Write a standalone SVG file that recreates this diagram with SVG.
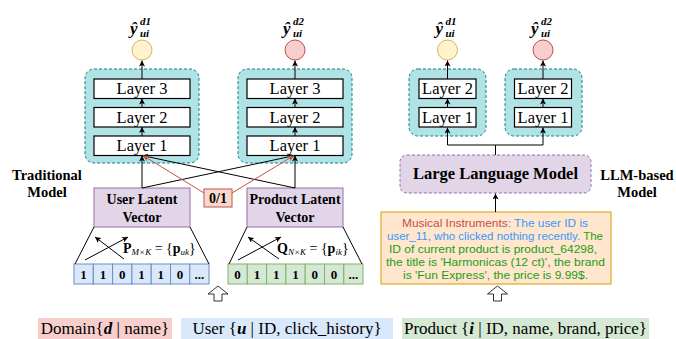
<svg xmlns="http://www.w3.org/2000/svg" width="676" height="339" viewBox="0 0 676 339">
<defs>
<marker id="ah" viewBox="0 0 10 10" refX="10" refY="5" markerWidth="6" markerHeight="6" markerUnits="userSpaceOnUse" orient="auto"><path d="M0,0 L10,5 L0,10 L2.5,5 Z" fill="#000"/></marker>
<marker id="ahr" viewBox="0 0 10 10" refX="10" refY="5" markerWidth="6" markerHeight="6" markerUnits="userSpaceOnUse" orient="auto"><path d="M0,0 L10,5 L0,10 L2.5,5 Z" fill="#c9504a"/></marker>
<style>
.teal{fill:#b0e3e6;stroke:#0e8088;stroke-width:1;stroke-dasharray:3,2}
.layer{fill:#fff;stroke:#000;stroke-width:1.2}
.lt{font-family:"Liberation Serif",serif;font-size:16.5px;text-anchor:middle;fill:#000}
.bt{font-family:"Liberation Serif",serif;font-weight:bold;text-anchor:middle;fill:#000}
.purple{fill:#e1d5e7;stroke:#9673a6;stroke-width:1}
.c{stroke:#000;stroke-width:1;fill:none}
.cr{stroke:#c9504a;stroke-width:1;fill:none}
.ucell{fill:#dae8fc;stroke:#6c8ebf;stroke-width:1}
.pcell{fill:#d5e8d4;stroke:#82b366;stroke-width:1}
.ct{font-family:"Liberation Serif",serif;font-weight:bold;font-size:13px;text-anchor:middle}
.m{font-family:"Liberation Serif",serif;font-size:14px}
.hat{font-family:"Liberation Serif",serif;font-weight:bold;font-style:italic}
.bl{font-family:"Liberation Serif",serif;font-size:17px;text-anchor:middle}
.cm{font-family:"Liberation Sans",Arial,sans-serif;font-size:10.5px;text-anchor:middle}
.hollow{fill:#fff;stroke:#000;stroke-width:0.8}
</style>
</defs>

<g id="trad-stack1">
<rect class="teal" x="85" y="69" width="114" height="94" rx="9"/>
<rect class="layer" x="94" y="79" width="96" height="19.5"/>
<text class="lt" x="142" y="94">Layer 3</text>
<rect class="layer" x="94" y="107.5" width="96" height="19.5"/>
<text class="lt" x="142" y="122.5">Layer 2</text>
<rect class="layer" x="94" y="136" width="96" height="19.5"/>
<text class="lt" x="142" y="151">Layer 1</text>
</g>
<g id="trad-stack2">
<rect class="teal" x="238" y="69" width="114" height="94" rx="9"/>
<rect class="layer" x="247" y="79" width="96" height="19.5"/>
<text class="lt" x="295" y="94">Layer 3</text>
<rect class="layer" x="247" y="107.5" width="96" height="19.5"/>
<text class="lt" x="295" y="122.5">Layer 2</text>
<rect class="layer" x="247" y="136" width="96" height="19.5"/>
<text class="lt" x="295" y="151">Layer 1</text>
</g>

<g id="out-t1">
<circle cx="142" cy="50" r="10" fill="#fff2cc" stroke="#d6b656"/>
<text class="hat" x="130" y="34" font-size="17">ŷ</text>
<text class="hat" x="140" y="25" font-size="11">d1</text>
<text class="hat" x="140" y="37" font-size="11">ui</text>
</g>
<g id="out-t2">
<circle cx="295" cy="50" r="10" fill="#f8cecc" stroke="#b85450"/>
<text class="hat" x="283" y="34" font-size="17">ŷ</text>
<text class="hat" x="293" y="25" font-size="11">d2</text>
<text class="hat" x="293" y="37" font-size="11">ui</text>
</g>
<g id="out-l1">
<circle cx="447.5" cy="50" r="10" fill="#fff2cc" stroke="#d6b656"/>
<text class="hat" x="435.5" y="34" font-size="17">ŷ</text>
<text class="hat" x="445.5" y="25" font-size="11">d1</text>
<text class="hat" x="445.5" y="37" font-size="11">ui</text>
</g>
<g id="out-l2">
<circle cx="543" cy="50" r="10" fill="#f8cecc" stroke="#b85450"/>
<text class="hat" x="531" y="34" font-size="17">ŷ</text>
<text class="hat" x="541" y="25" font-size="11">d2</text>
<text class="hat" x="541" y="37" font-size="11">ui</text>
</g>

<g id="llm-stack1">
<rect class="teal" x="409" y="69" width="77" height="67" rx="9"/>
<rect class="layer" x="419" y="79" width="57" height="19.5"/>
<text class="lt" x="447.5" y="94">Layer 2</text>
<rect class="layer" x="419" y="107.5" width="57" height="19.5"/>
<text class="lt" x="447.5" y="122.5">Layer 1</text>
</g>
<g id="llm-stack2">
<rect class="teal" x="505" y="69" width="77" height="67" rx="9"/>
<rect class="layer" x="514.5" y="79" width="57" height="19.5"/>
<text class="lt" x="543" y="94">Layer 2</text>
<rect class="layer" x="514.5" y="107.5" width="57" height="19.5"/>
<text class="lt" x="543" y="122.5">Layer 1</text>
</g>

<g id="trad-label">
<text class="bt" x="47" y="180" font-size="14.5">Traditional</text>
<text class="bt" x="47" y="197" font-size="14.5">Model</text>
</g>
<g id="llm-label">
<text class="bt" x="637" y="180" font-size="14.5">LLM-based</text>
<text class="bt" x="637" y="197" font-size="14.5">Model</text>
</g>

<g id="user-latent">
<rect class="purple" x="94" y="188" width="96" height="39"/>
<text class="bt" x="142" y="204" font-size="14">User Latent</text>
<text class="bt" x="142" y="222" font-size="14">Vector</text>
</g>
<g id="product-latent">
<rect class="purple" x="247" y="188" width="96" height="39"/>
<text class="bt" x="295" y="204" font-size="14">Product Latent</text>
<text class="bt" x="295" y="222" font-size="14">Vector</text>
</g>
<g id="domain-switch">
<rect x="204" y="189" width="28" height="18" fill="#fad9cc" stroke="#b85450"/>
<text class="bt" x="218" y="203" font-size="14">0/1</text>
</g>

<g id="user-vector">
<rect class="ucell" x="74" y="264" width="19.3" height="20"/>
<rect class="ucell" x="93.3" y="264" width="19.3" height="20"/>
<rect class="ucell" x="112.6" y="264" width="19.3" height="20"/>
<rect class="ucell" x="131.9" y="264" width="19.3" height="20"/>
<rect class="ucell" x="151.2" y="264" width="19.3" height="20"/>
<rect class="ucell" x="170.5" y="264" width="19.3" height="20"/>
<rect class="ucell" x="189.8" y="264" width="19.2" height="20"/>
<text class="ct" x="83.6" y="278.5">1</text>
<text class="ct" x="102.9" y="278.5">1</text>
<text class="ct" x="122.2" y="278.5">0</text>
<text class="ct" x="141.5" y="278.5">1</text>
<text class="ct" x="160.8" y="278.5">1</text>
<text class="ct" x="180.1" y="278.5">0</text>
<text class="ct" x="199.4" y="278.5">...</text>
</g>
<g id="product-vector">
<rect class="pcell" x="228" y="264" width="19.3" height="20"/>
<rect class="pcell" x="247.3" y="264" width="19.3" height="20"/>
<rect class="pcell" x="266.6" y="264" width="19.3" height="20"/>
<rect class="pcell" x="285.9" y="264" width="19.3" height="20"/>
<rect class="pcell" x="305.2" y="264" width="19.3" height="20"/>
<rect class="pcell" x="324.5" y="264" width="19.3" height="20"/>
<rect class="pcell" x="343.8" y="264" width="19.2" height="20"/>
<text class="ct" x="237.6" y="278.5">0</text>
<text class="ct" x="256.9" y="278.5">1</text>
<text class="ct" x="276.2" y="278.5">1</text>
<text class="ct" x="295.5" y="278.5">1</text>
<text class="ct" x="314.8" y="278.5">0</text>
<text class="ct" x="334.1" y="278.5">0</text>
<text class="ct" x="353.4" y="278.5">...</text>
</g>

<g id="p-matrix">
<text class="m" x="123" y="253"><tspan font-weight="bold">P</tspan><tspan font-style="italic" font-size="9" dy="2">M×K</tspan><tspan dy="-2"> = {</tspan><tspan font-weight="bold">p</tspan><tspan font-style="italic" font-size="9" dy="2">uk</tspan><tspan dy="-2">}</tspan></text>
</g>
<g id="q-matrix">
<text class="m" x="277" y="253"><tspan font-weight="bold">Q</tspan><tspan font-style="italic" font-size="9" dy="2">N×K</tspan><tspan dy="-2"> = {</tspan><tspan font-weight="bold">p</tspan><tspan font-style="italic" font-size="9" dy="2">ik</tspan><tspan dy="-2">}</tspan></text>
</g>

<g id="llm">
<rect x="400" y="155" width="191" height="38" rx="7" fill="#e1d5e7" stroke="#9673a6" stroke-dasharray="3,2"/>
<text class="bt" x="495.5" y="179" font-size="16.5">Large Language Model</text>
</g>
<g id="prompt">
<rect x="381" y="212" width="230" height="72" fill="#ffe6cc" stroke="#d79b00"/>
<text class="cm" x="495" y="226.5" textLength="186" lengthAdjust="spacingAndGlyphs"><tspan fill="#c0504d">Musical Instruments</tspan><tspan fill="#3399ff">: The user ID is</tspan></text>
<text class="cm" x="495" y="239.7" textLength="216" lengthAdjust="spacingAndGlyphs"><tspan fill="#3399ff">user_11, who clicked nothing recently.</tspan><tspan fill="#1a9e1a"> The</tspan></text>
<text class="cm" x="493" y="252.9" fill="#1a9e1a" textLength="208" lengthAdjust="spacingAndGlyphs">ID of current product is product_64298,</text>
<text class="cm" x="495.5" y="266.1" fill="#1a9e1a" textLength="219" lengthAdjust="spacingAndGlyphs">the title is 'Harmonicas (12 ct)', the brand</text>
<text class="cm" x="495.5" y="279.3" fill="#1a9e1a" textLength="185" lengthAdjust="spacingAndGlyphs">is 'Fun Express', the price is 9.99$.</text>
</g>

<g id="domain-input">
<rect x="38" y="318" width="134" height="21" fill="#f8cecc"/>
<text class="bl" x="105" y="333.5">Domain{<tspan font-weight="bold" font-style="italic">d</tspan> | name}</text>
</g>
<g id="user-input">
<rect x="181" y="318" width="212" height="21" fill="#dae8fc"/>
<text class="bl" x="287" y="333.5">User {<tspan font-weight="bold" font-style="italic">u</tspan> | ID, click_history}</text>
</g>
<g id="product-input">
<rect x="402" y="318" width="247" height="21" fill="#d5e8d4"/>
<text class="bl" x="525.5" y="333.5">Product {<tspan font-weight="bold" font-style="italic">i</tspan> | ID, name, brand, price}</text>
</g>

<g id="connectors">
<line class="c" x1="142" y1="79" x2="142" y2="60.5" marker-end="url(#ah)"/>
<line class="c" x1="142" y1="107.5" x2="142" y2="98.5" marker-end="url(#ah)"/>
<line class="c" x1="142" y1="136" x2="142" y2="127" marker-end="url(#ah)"/>
<line class="c" x1="295" y1="79" x2="295" y2="60.5" marker-end="url(#ah)"/>
<line class="c" x1="295" y1="107.5" x2="295" y2="98.5" marker-end="url(#ah)"/>
<line class="c" x1="295" y1="136" x2="295" y2="127" marker-end="url(#ah)"/>
<line class="c" x1="447.5" y1="79" x2="447.5" y2="60.5" marker-end="url(#ah)"/>
<line class="c" x1="447.5" y1="107.5" x2="447.5" y2="98.5" marker-end="url(#ah)"/>
<line class="c" x1="543" y1="79" x2="543" y2="60.5" marker-end="url(#ah)"/>
<line class="c" x1="543" y1="107.5" x2="543" y2="98.5" marker-end="url(#ah)"/>

<line class="c" x1="142" y1="188" x2="142" y2="155.5" marker-end="url(#ah)"/>
<line class="c" x1="295" y1="188" x2="295" y2="155.5" marker-end="url(#ah)"/>
<line class="c" x1="142" y1="188" x2="295" y2="155.5" marker-end="url(#ah)"/>
<line class="c" x1="295" y1="188" x2="142" y2="155.5" marker-end="url(#ah)"/>
<line class="cr" x1="204" y1="193" x2="143" y2="155.5" marker-end="url(#ahr)"/>
<line class="cr" x1="232" y1="193" x2="294" y2="155.5" marker-end="url(#ahr)"/>

<line class="c" x1="94" y1="227" x2="75" y2="264"/>
<line class="c" x1="190" y1="227" x2="209" y2="264"/>
<line class="c" x1="247" y1="227" x2="229" y2="264"/>
<line class="c" x1="343" y1="227" x2="362" y2="264"/>
<line class="c" x1="85" y1="260" x2="128" y2="237" marker-end="url(#ah)"/>
<line class="c" x1="124" y1="259" x2="95" y2="237" marker-end="url(#ah)"/>
<line class="c" x1="238" y1="260" x2="281" y2="237" marker-end="url(#ah)"/>
<line class="c" x1="279" y1="259" x2="248" y2="237" marker-end="url(#ah)"/>

<polyline class="c" points="495.5,155 495.5,145 447.5,145 447.5,127.5" marker-end="url(#ah)"/>
<polyline class="c" points="495.5,145 543,145 543,127.5" marker-end="url(#ah)"/>
<line class="c" x1="495.5" y1="212" x2="495.5" y2="193.5" marker-end="url(#ah)"/>

<path class="hollow" d="M218,286 L228,294 L222,294 L222,301 L214,301 L214,294 L208,294 Z"/>
<path class="hollow" d="M497.5,286 L507.5,294 L501.5,294 L501.5,301 L493.5,301 L493.5,294 L487.5,294 Z"/>
</g>
</svg>
